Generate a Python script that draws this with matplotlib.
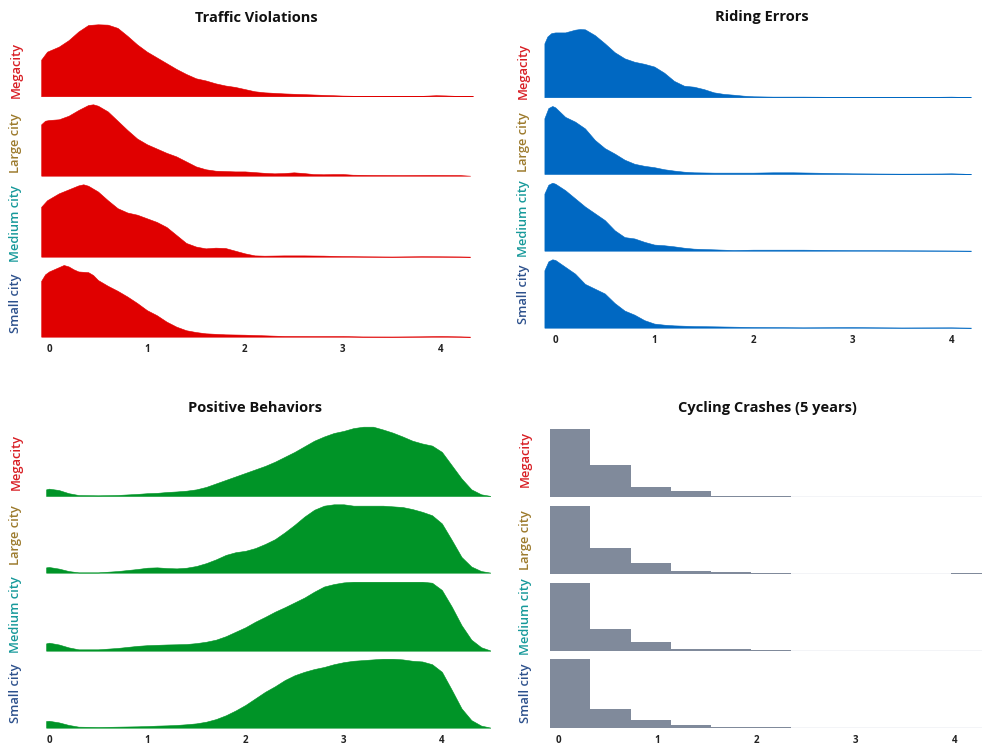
import numpy as np
import matplotlib
matplotlib.use("Agg")
import matplotlib.pyplot as plt

plt.rcParams["font.family"] = ["Open Sans", "DejaVu Sans"]

# ---- data (each ridge scaled to its own peak = 1) ----
row_names = ["Megacity", "Large city", "Medium city", "Small city"]
row_colors = ["#d81e24", "#9c7a2c", "#16999a", "#2c508c"]

# Traffic Violations
tv_mega_x = [-0.08, -0.02, 0.1, 0.2, 0.3, 0.4, 0.5, 0.6, 0.7, 0.8, 0.9, 1.0, 1.1, 1.2, 1.3, 1.4, 1.5, 1.6,
             1.7, 1.8, 1.9, 2.0, 2.1, 2.2, 2.4, 2.6, 2.8, 3.0, 3.2, 3.5, 3.8, 3.95, 4.05, 4.2, 4.33]
tv_mega_y = [0.51, 0.62, 0.69, 0.78, 0.90, 0.99, 1.0, 0.995, 0.95, 0.84, 0.72, 0.62, 0.54, 0.46, 0.38, 0.31,
             0.25, 0.22, 0.18, 0.15, 0.13, 0.10, 0.07, 0.055, 0.04, 0.03, 0.02, 0.01, 0.005, 0.003, 0.006,
             0.015, 0.012, 0.004, 0.0]
tv_large_x = [-0.08, -0.04, 0.0, 0.1, 0.2, 0.3, 0.4, 0.45, 0.5, 0.6, 0.7, 0.8, 0.9, 1.0, 1.1, 1.2, 1.3, 1.4,
              1.5, 1.6, 1.7, 1.8, 1.9, 2.0, 2.1, 2.2, 2.3, 2.4, 2.5, 2.6, 2.7, 2.8, 2.9, 3.0, 3.1, 3.3, 3.6,
              3.9, 4.2, 4.3]
tv_large_y = [0.72, 0.77, 0.78, 0.79, 0.84, 0.92, 0.99, 1.0, 0.98, 0.90, 0.77, 0.64, 0.52, 0.44, 0.38, 0.32,
              0.27, 0.20, 0.13, 0.09, 0.07, 0.065, 0.06, 0.06, 0.05, 0.04, 0.033, 0.037, 0.047, 0.037, 0.023,
              0.02, 0.023, 0.023, 0.014, 0.01, 0.008, 0.01, 0.008, 0.0]
tv_medium_x = [-0.08, -0.02, 0.1, 0.2, 0.3, 0.35, 0.4, 0.5, 0.6, 0.7, 0.8, 0.9, 1.0, 1.1, 1.2, 1.3, 1.4, 1.5,
               1.6, 1.7, 1.8, 1.9, 2.0, 2.1, 2.2, 2.4, 2.6, 2.8, 3.0, 3.2, 3.5, 3.8, 4.0, 4.2, 4.3]
tv_medium_y = [0.69, 0.78, 0.875, 0.93, 0.985, 1.0, 0.98, 0.90, 0.78, 0.67, 0.61, 0.58, 0.53, 0.48, 0.41, 0.30,
               0.19, 0.14, 0.115, 0.125, 0.12, 0.083, 0.046, 0.018, 0.014, 0.018, 0.018, 0.015, 0.008, 0.005,
               0.002, 0.006, 0.005, 0.003, 0.0]
tv_small_x = [-0.08, -0.04, 0.0, 0.05, 0.1, 0.15, 0.2, 0.25, 0.3, 0.4, 0.45, 0.5, 0.6, 0.7, 0.8, 0.9, 1.0, 1.1,
              1.2, 1.3, 1.4, 1.5, 1.6, 1.8, 2.0, 2.2, 2.4, 2.7, 3.0, 3.2, 3.5, 3.8, 4.0, 4.2, 4.3]
tv_small_y = [0.78, 0.87, 0.91, 0.94, 0.97, 1.0, 0.98, 0.94, 0.91, 0.90, 0.86, 0.79, 0.71, 0.64, 0.56, 0.47,
              0.37, 0.30, 0.21, 0.14, 0.09, 0.065, 0.047, 0.033, 0.028, 0.019, 0.01, 0.008, 0.008, 0.003,
              0.002, 0.005, 0.008, 0.004, 0.0]

# Riding Errors
re_mega_x = [-0.11, -0.08, -0.04, 0.0, 0.1, 0.2, 0.25, 0.3, 0.4, 0.5, 0.6, 0.7, 0.8, 0.9, 1.0, 1.1, 1.2, 1.3,
             1.4, 1.5, 1.6, 1.7, 1.8, 1.9, 2.0, 2.2, 2.5, 3.0, 3.5, 3.9, 4.0, 4.1, 4.2]
re_mega_y = [0.79, 0.89, 0.94, 0.95, 0.95, 0.99, 1.0, 0.995, 0.91, 0.79, 0.66, 0.57, 0.52, 0.49, 0.45, 0.36,
             0.24, 0.17, 0.155, 0.12, 0.073, 0.05, 0.038, 0.024, 0.015, 0.01, 0.01, 0.005, 0.002, 0.008, 0.01,
             0.006, 0.0]
re_large_x = [-0.11, -0.07, -0.03, 0.0, 0.1, 0.2, 0.3, 0.4, 0.5, 0.6, 0.7, 0.8, 0.9, 1.0, 1.1, 1.2, 1.3, 1.4,
              1.6, 1.8, 2.0, 2.2, 2.4, 2.6, 2.8, 3.0, 3.5, 3.9, 4.0, 4.1, 4.2]
re_large_y = [0.82, 0.97, 1.0, 0.98, 0.84, 0.77, 0.67, 0.50, 0.38, 0.30, 0.21, 0.15, 0.12, 0.10, 0.07, 0.05,
              0.034, 0.025, 0.02, 0.02, 0.02, 0.025, 0.025, 0.02, 0.015, 0.01, 0.005, 0.008, 0.01, 0.006, 0.0]
re_medium_x = [-0.11, -0.07, -0.03, 0.0, 0.1, 0.2, 0.3, 0.4, 0.5, 0.6, 0.7, 0.8, 0.9, 1.0, 1.1, 1.2, 1.3, 1.4,
               1.6, 1.8, 2.0, 2.5, 3.0, 3.5, 4.0, 4.2]
re_medium_y = [0.84, 0.97, 1.0, 0.985, 0.89, 0.77, 0.65, 0.55, 0.45, 0.30, 0.20, 0.18, 0.13, 0.09, 0.08, 0.064,
               0.044, 0.03, 0.02, 0.01, 0.015, 0.015, 0.008, 0.006, 0.003, 0.0]
re_small_x = [-0.11, -0.07, -0.03, 0.0, 0.1, 0.2, 0.3, 0.4, 0.5, 0.6, 0.7, 0.8, 0.9, 1.0, 1.1, 1.2, 1.4, 1.6,
              1.8, 2.0, 2.5, 3.0, 3.5, 4.0, 4.2]
re_small_y = [0.84, 0.97, 1.0, 0.99, 0.89, 0.79, 0.64, 0.57, 0.50, 0.36, 0.25, 0.19, 0.11, 0.06, 0.044, 0.034,
              0.024, 0.02, 0.015, 0.01, 0.005, 0.008, 0.003, 0.005, 0.0]

# Positive Behaviors (shared x)
pb_x = [-0.03, 0.0, 0.1, 0.2, 0.3, 0.5, 0.7, 0.9, 1.0, 1.1, 1.2, 1.3, 1.4, 1.5, 1.6, 1.7, 1.8, 1.9, 2.0, 2.1,
        2.2, 2.3, 2.4, 2.5, 2.6, 2.7, 2.8, 2.9, 3.0, 3.1, 3.2, 3.3, 3.4, 3.5, 3.6, 3.7, 3.8, 3.9, 4.0, 4.1,
        4.2, 4.3, 4.4, 4.5]
pb_mega = [0.095, 0.105, 0.085, 0.04, 0.014, 0.01, 0.015, 0.03, 0.04, 0.045, 0.057, 0.065, 0.076, 0.095,
           0.13, 0.18, 0.23, 0.28, 0.33, 0.38, 0.43, 0.49, 0.56, 0.63, 0.71, 0.79, 0.85, 0.90, 0.93, 0.97,
           0.99, 0.99, 0.95, 0.905, 0.85, 0.79, 0.75, 0.72, 0.63, 0.44, 0.25, 0.095, 0.024, 0.0]
pb_large = [0.078, 0.083, 0.06, 0.024, 0.005, 0.005, 0.024, 0.054, 0.073, 0.078, 0.068, 0.063, 0.073, 0.098,
            0.14, 0.195, 0.26, 0.30, 0.32, 0.36, 0.42, 0.49, 0.59, 0.70, 0.82, 0.92, 0.98, 1.0, 1.0, 0.98,
            0.98, 0.98, 0.98, 0.97, 0.96, 0.93, 0.89, 0.84, 0.72, 0.48, 0.23, 0.09, 0.024, 0.0]
pb_medium = [0.106, 0.116, 0.09, 0.048, 0.02, 0.02, 0.04, 0.07, 0.08, 0.085, 0.09, 0.093, 0.097, 0.11, 0.13,
             0.16, 0.21, 0.275, 0.34, 0.42, 0.49, 0.565, 0.63, 0.70, 0.77, 0.855, 0.93, 0.966, 0.99, 1.0,
             1.0, 1.0, 1.0, 1.0, 1.0, 1.0, 1.0, 0.985, 0.88, 0.64, 0.37, 0.16, 0.05, 0.0]
pb_small = [0.097, 0.10, 0.077, 0.04, 0.015, 0.01, 0.015, 0.02, 0.024, 0.03, 0.034, 0.04, 0.05, 0.063, 0.087,
            0.125, 0.18, 0.25, 0.33, 0.425, 0.52, 0.60, 0.69, 0.76, 0.81, 0.85, 0.88, 0.92, 0.95, 0.97, 0.98,
            0.99, 1.0, 1.0, 0.99, 0.97, 0.96, 0.92, 0.81, 0.55, 0.28, 0.11, 0.03, 0.0]

# Cycling Crashes (5 years) histogram
cc_edges = [-0.08, 0.325, 0.73, 1.135, 1.54, 1.945, 2.35, 2.755, 3.16, 3.565, 3.97, 4.375]
cc_mega = [1.0, 0.47, 0.155, 0.087, 0.015, 0.015, 0.006, 0.006, 0.006, 0.006, 0.006]
cc_large = [1.0, 0.375, 0.156, 0.049, 0.024, 0.015, 0.005, 0.005, 0.005, 0.0, 0.008]
cc_medium = [1.0, 0.317, 0.137, 0.03, 0.025, 0.01, 0.0, 0.006, 0.0, 0.003, 0.0]
cc_small = [1.0, 0.27, 0.117, 0.044, 0.02, 0.01, 0.005, 0.005, 0.005, 0.0, 0.005]

x_ticks = [0, 1, 2, 3, 4]

# ---- layout in pixels ----
W, H = 982, 745
fig = plt.figure(figsize=(W / 100, H / 100), dpi=100)
fig.patch.set_facecolor("white")


def px_axes(left, right, top, bottom):
    return fig.add_axes([left / W, 1 - bottom / H, (right - left) / W, (bottom - top) / H])


def fig_text(x, y, s, **kw):
    fig.text(x / W, 1 - y / H, s, **kw)


panels = [
    {
        "title": "Traffic Violations", "title_xy": (256, 18), "color": "#e00000",
        "x_px": (41, 475), "xlim": (-0.082, 4.35),
        "rows": [(24.3, 96.3), (104.3, 175.7), (184.3, 256.7), (265, 336.7)],
        "label_x": 16, "label_dy": [10, 3, 3, 2],
        "series": [(tv_mega_x, tv_mega_y), (tv_large_x, tv_large_y),
                   (tv_medium_x, tv_medium_y), (tv_small_x, tv_small_y)],
    },
    {
        "title": "Riding Errors", "title_xy": (762, 17), "color": "#0068c2",
        "x_px": (544, 972), "xlim": (-0.114, 4.21),
        "rows": [(29, 97.3), (106, 174), (182.7, 250.7), (259.3, 327.7)],
        "label_x": 523, "label_dy": [8, 2, 2, 1],
        "series": [(re_mega_x, re_mega_y), (re_large_x, re_large_y),
                   (re_medium_x, re_medium_y), (re_small_x, re_small_y)],
    },
    {
        "title": "Positive Behaviors", "title_xy": (255, 408), "color": "#009427",
        "x_px": (45.7, 490), "xlim": (-0.034, 4.49),
        "rows": [(426, 496), (504.3, 572.7), (581.7, 650.7), (658.7, 727.7)],
        "label_x": 16, "label_dy": [1, -3, -2, 0],
        "series": [(pb_x, pb_mega), (pb_x, pb_large), (pb_x, pb_medium), (pb_x, pb_small)],
    },
    {
        "title": "Cycling Crashes (5 years)", "title_xy": (767, 408), "color": "#808a9b",
        "x_px": (550, 982), "xlim": (-0.084, 4.28),
        "rows": [(428.7, 497.3), (505.7, 574), (582.7, 651), (659.3, 728)],
        "label_x": 525, "label_dy": [-4, 0, 0, 0],
        "hist": [cc_mega, cc_large, cc_medium, cc_small],
    },
]

for p in panels:
    left, right = p["x_px"]
    for i, (top, bottom) in enumerate(p["rows"]):
        ax = px_axes(left, right, top, bottom)
        ax.set_xlim(*p["xlim"])
        ax.set_ylim(0, 1.0)
        if "hist" in p:
            heights = p["hist"][i]
            ax.axhline(0, color="#c4cad8", linewidth=1.0, zorder=0)
            ax.bar(cc_edges[:-1], heights, width=np.diff(cc_edges), align="edge",
                   color=p["color"], linewidth=0)
        else:
            xs, ys = p["series"][i]
            ax.fill_between(xs, ys, 0, color=p["color"], edgecolor=p["color"], linewidth=0.4)
        for s in ax.spines.values():
            s.set_visible(False)
        ax.set_yticks([])
        ax.patch.set_alpha(0)
        if i == len(p["rows"]) - 1:
            ax.set_xticks(x_ticks)
            ax.set_xticklabels([str(t) for t in x_ticks], fontsize=7, fontweight="bold",
                               color="#222222")
            ax.tick_params(axis="x", length=0, pad=5)
        else:
            ax.set_xticks([])
        cy = (top + bottom) / 2 + p["label_dy"][i]
        fig_text(p["label_x"], cy, row_names[i], rotation=90, ha="center", va="center",
                 fontsize=9.3, fontweight="semibold", color=row_colors[i])
    tx, ty = p["title_xy"]
    fig_text(tx, ty, p["title"], ha="center", va="center", fontsize=10.5, fontweight="bold",
             color="#111111")

fig.savefig("out.png", dpi=100, facecolor="white")
